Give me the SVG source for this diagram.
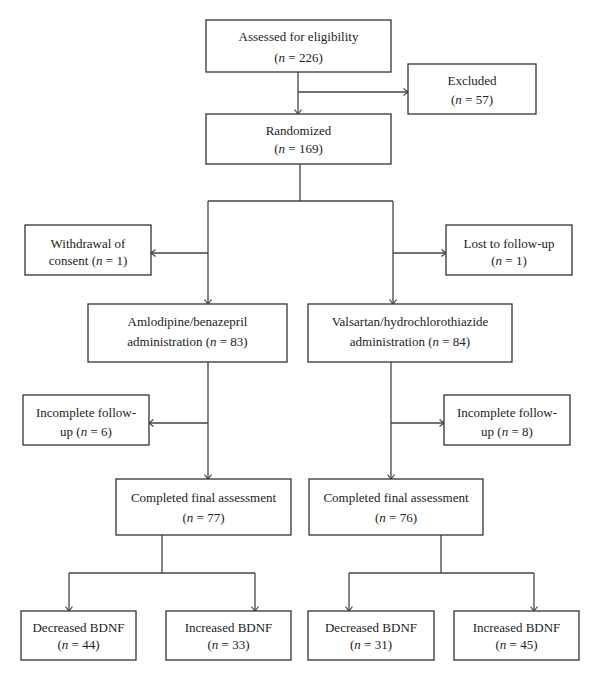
<svg xmlns="http://www.w3.org/2000/svg" width="600" height="681" viewBox="0 0 600 681">
<defs>
<style>
.box{fill:#fff;stroke:#333;stroke-width:1.3}
.ln{fill:none;stroke:#444;stroke-width:1.3}
.arr{marker-end:url(#ah)}
text{font-family:"Liberation Serif","Times New Roman",serif;font-size:13px;fill:#222;text-anchor:middle}
.i{font-style:italic}
</style>
<marker id="ah" markerUnits="userSpaceOnUse" viewBox="-6 -5 7 10" refX="0" refY="0" markerWidth="7" markerHeight="10" orient="auto">
<path d="M-4.5,-3.5 L0,0 L-4.5,3.5" fill="none" stroke="#444" stroke-width="1.2"/>
</marker>
</defs>
<rect width="600" height="681" fill="#fff"/>
<g id="connectors">
<path class="ln arr" d="M298,72 V114"/>
<path class="ln arr" d="M298,92 H408"/>
<path class="ln" d="M300,164 V201 M208,201 H393"/>
<path class="ln arr" d="M208,201 V304"/>
<path class="ln arr" d="M393,201 V304"/>
<path class="ln arr" d="M208,253 H151"/>
<path class="ln arr" d="M393,253 H446"/>
<path class="ln arr" d="M208,362 V479"/>
<path class="ln arr" d="M391,362 V479"/>
<path class="ln arr" d="M208,423 H149"/>
<path class="ln arr" d="M391,423 H444"/>
<path class="ln" d="M162,535 V573 M69,573 H255"/>
<path class="ln arr" d="M69,573 V611"/>
<path class="ln arr" d="M255,573 V611"/>
<path class="ln" d="M441,535 V573 M349,573 H534"/>
<path class="ln arr" d="M349,573 V611"/>
<path class="ln arr" d="M534,573 V611"/>
</g>
<g id="assessed"><rect class="box" x="206" y="20" width="185" height="52"/><text x="298.5" y="41">Assessed for eligibility</text><text x="298.5" y="62">(<tspan class="i">n</tspan> = 226)</text></g>
<g id="excluded"><rect class="box" x="408" y="64" width="128" height="50"/><text x="472" y="85">Excluded</text><text x="472" y="104">(<tspan class="i">n</tspan> = 57)</text></g>
<g id="randomized"><rect class="box" x="206" y="114" width="185" height="50"/><text x="298.5" y="135">Randomized</text><text x="298.5" y="153">(<tspan class="i">n</tspan> = 169)</text></g>
<g id="withdrawal"><rect class="box" x="25" y="225" width="126" height="50"/><text x="88" y="248">Withdrawal of</text><text x="88" y="265">consent (<tspan class="i">n</tspan> = 1)</text></g>
<g id="lost"><rect class="box" x="446" y="225" width="126" height="50"/><text x="509" y="248">Lost to follow-up</text><text x="509" y="265">(<tspan class="i">n</tspan> = 1)</text></g>
<g id="amlodipine"><rect class="box" x="88" y="304" width="199" height="58"/><text x="187.5" y="326">Amlodipine/benazepril</text><text x="187.5" y="346">administration (<tspan class="i">n</tspan> = 83)</text></g>
<g id="valsartan"><rect class="box" x="308" y="304" width="204" height="58"/><text x="410" y="326">Valsartan/hydrochlorothiazide</text><text x="410" y="346">administration (<tspan class="i">n</tspan> = 84)</text></g>
<g id="incomplete-left"><rect class="box" x="23" y="395" width="126" height="50"/><text x="86" y="417">Incomplete follow-</text><text x="86" y="436">up (<tspan class="i">n</tspan> = 6)</text></g>
<g id="incomplete-right"><rect class="box" x="444" y="395" width="126" height="50"/><text x="507" y="417">Incomplete follow-</text><text x="507" y="436">up (<tspan class="i">n</tspan> = 8)</text></g>
<g id="completed-left"><rect class="box" x="116" y="479" width="175" height="56"/><text x="203.5" y="502">Completed final assessment</text><text x="203.5" y="522">(<tspan class="i">n</tspan> = 77)</text></g>
<g id="completed-right"><rect class="box" x="309" y="479" width="174" height="56"/><text x="396" y="502">Completed final assessment</text><text x="396" y="522">(<tspan class="i">n</tspan> = 76)</text></g>
<g id="decreased-left"><rect class="box" x="21" y="611" width="115" height="49"/><text x="78.5" y="632">Decreased BDNF</text><text x="78.5" y="649">(<tspan class="i">n</tspan> = 44)</text></g>
<g id="increased-left"><rect class="box" x="166" y="611" width="125" height="49"/><text x="228.5" y="632">Increased BDNF</text><text x="228.5" y="649">(<tspan class="i">n</tspan> = 33)</text></g>
<g id="decreased-right"><rect class="box" x="308" y="611" width="126" height="49"/><text x="371" y="632">Decreased BDNF</text><text x="371" y="649">(<tspan class="i">n</tspan> = 31)</text></g>
<g id="increased-right"><rect class="box" x="454" y="611" width="125" height="49"/><text x="516.5" y="632">Increased BDNF</text><text x="516.5" y="649">(<tspan class="i">n</tspan> = 45)</text></g>
</svg>
